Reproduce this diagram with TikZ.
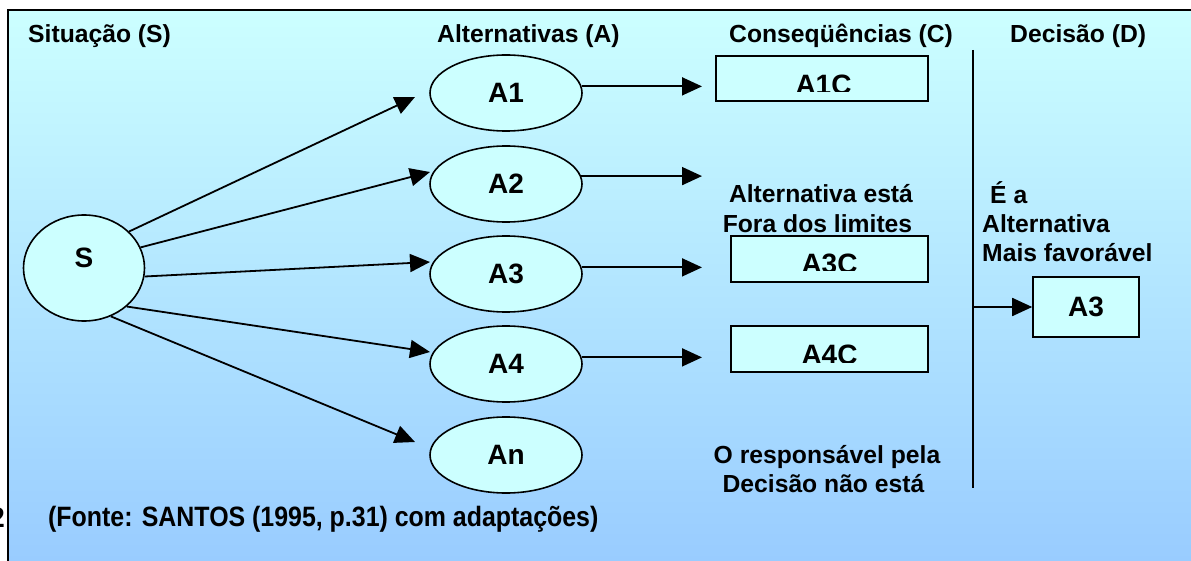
\documentclass[tikz,border=0pt]{standalone}
\usepackage{fontspec}
\setmainfont{Liberation Sans}
\newfontfamily\narrowfont[FakeStretch=0.89]{Liberation Sans}
\usetikzlibrary{shapes.geometric,arrows.meta}
\definecolor{bgtop}{RGB}{204,255,255}
\definecolor{bgbot}{RGB}{153,204,255}
\definecolor{shapefill}{RGB}{204,255,255}
\tikzset{
  txt/.style={font=\fontsize{24.7}{29}\selectfont\bfseries, inner sep=0pt},
  lbl/.style={font=\fontsize{28}{34}\selectfont\bfseries, inner sep=0pt},
  ell/.style={ellipse, draw, line width=1.6pt, fill=shapefill, minimum width=152pt,
    minimum height=76pt, inner sep=0pt, font=\fontsize{28}{34}\selectfont\bfseries},
  boxnode/.style={rectangle, draw, line width=1.6pt, fill=shapefill, inner sep=0pt},
  arr/.style={line width=1.8pt, -{Triangle[length=20pt,width=18pt]}},
  src/.style={font=\narrowfont\fontsize{28}{34}\selectfont\bfseries, inner sep=0pt}
}
\begin{document}
\begin{tikzpicture}[x=1pt,y=-1pt]
\useasboundingbox (0,0) rectangle (1191,561);
\fill[white] (0,0) rectangle (1191,561);
\shade[top color=bgtop,bottom color=bgbot] (8,10) rectangle (1191,561);
% stray footnote digit, cut by the frame as in the reference
\node[src, anchor=base east] (two) at (5,527) {2};
\draw[line width=2pt] (8,561) -- (8,10) -- (1191,10);

% headers
\node[txt, anchor=base west] (hS) at (28,43) {Situação (S)};
\node[txt, anchor=base west] (hA) at (437,43) {Alternativas (A)};
\node[txt, anchor=base west] (hC) at (729,43) {Conseqüências (C)};
\node[txt, anchor=base west] (hD) at (1010,43) {Decisão (D)};

% situation
\node[ell, minimum width=121pt, minimum height=106pt, text height=20pt, text depth=20pt] (S) at (84,268) {S};

% alternatives
\node[ell] (A1) at (506,93) {A1};
\node[ell] (A2) at (506,184) {A2};
\node[ell] (A3) at (506,274) {A3};
\node[ell] (A4) at (506,364) {A4};
\node[ell] (An) at (506,455) {An};

% arrow tips from S
\coordinate (t1) at (415,97);
\coordinate (t2) at (430,172);
\coordinate (t3) at (430,262);
\coordinate (t4) at (430,352);
\coordinate (t5) at (415,442);
\draw[arr] (S.39) -- (t1);
\draw[arr] (S.20) -- (t2);
\draw[arr] (S.-8) -- (t3);
\draw[arr] (S.-42) -- (t4);
\draw[arr] (S.-61) -- (t5);

% arrows to consequences
\coordinate (hx) at (702,0);
\draw[arr] (A1.5) -- (A1.5 -| hx);
\draw[arr] (A2.6) -- (A2.6 -| hx);
\draw[arr] (A3.5) -- (A3.5 -| hx);
\draw[arr] (A4.5) -- (A4.5 -| hx);

% consequence texts
\node[txt, anchor=base] (c2a) at (821,203) {Alternativa está};
\node[txt, anchor=base] (c2b) at (817.5,233) {Fora dos limites};
\node[txt, anchor=base] (cna) at (827,463) {O responsável pela};
\node[txt, anchor=base] (cnb) at (823.5,492) {Decisão não está};

% consequence boxes
\node[boxnode, minimum width=212pt, minimum height=45pt] (A1C) at (822,78.5) {};
\begin{scope}
  \clip (716,56) rectangle (928,92);
  \node[lbl, anchor=base] (A1Ct) at (823.5,94.5) {A1C};
\end{scope}
\node[boxnode, minimum width=197pt, minimum height=46pt] (A3C) at (829.5,259) {};
\begin{scope}
  \clip (731,236) rectangle (928,271);
  \node[lbl, anchor=base] (A3Ct) at (829.5,273.5) {A3C};
\end{scope}
\node[boxnode, minimum width=197pt, minimum height=46pt] (A4C) at (829.5,349) {};
\begin{scope}
  \clip (731,326) rectangle (928,362.5);
  \node[lbl, anchor=base] (A4Ct) at (829.5,364) {A4C};
\end{scope}

% decision
\coordinate (vtop) at (973,50);
\coordinate (vbot) at (973,488);
\draw[line width=1.8pt] (vtop) -- (vbot);
\node[txt, anchor=base west] (d1) at (990,204) {É a};
\node[txt, anchor=base west] (d2) at (982,233) {Alternativa};
\node[txt, anchor=base west] (d3) at (982,262) {Mais favorável};
\node[boxnode, minimum width=106pt, minimum height=60pt, lbl] (D) at (1086,307) {A3};
\draw[arr] (vtop |- D.west) -- (D.west);

% source
\node[src, anchor=base west] (fonte) at (48,526) {(Fonte: SANTOS (1995, p.31) com adaptações)};
\end{tikzpicture}
\end{document}
